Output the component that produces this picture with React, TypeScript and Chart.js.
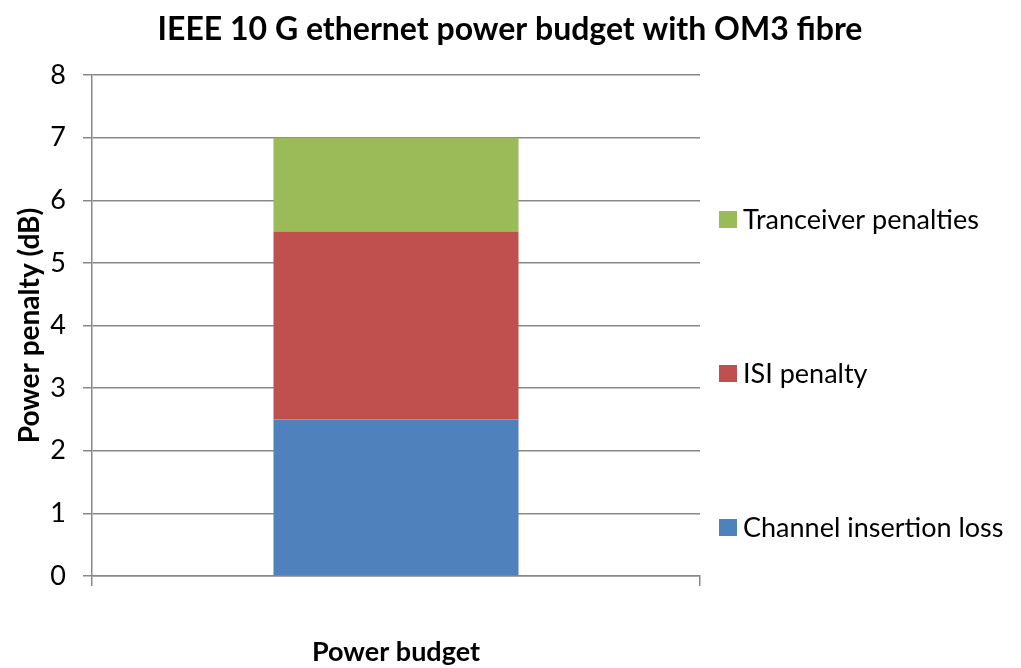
import React, { useEffect, useRef } from "react";
import { Chart, registerables } from "chart.js";

Chart.register(...registerables);

const title = "IEEE 10 G ethernet power budget with OM3 fibre";
const categories = ["Power budget"];
const seriesNames = ["Channel insertion loss", "ISI penalty", "Tranceiver penalties"];
const channelLoss = [2.5];
const isiPenalty = [3.0];
const transceiverPenalties = [1.5];
const seriesColors = ["#4F81BD", "#C0504D", "#9BBB59"];
const yTitle = "Power penalty (dB)";
const yMin = 0;
const yMax = 8;
const yStep = 1;

const FONT = "Lato, 'Open Sans', sans-serif";

const titlePlugin = {
  id: "centerTitle",
  afterDraw(chart: any) {
    const { ctx } = chart;
    ctx.save();
    ctx.font = `bold 32px ${FONT}`;
    ctx.fillStyle = "#000";
    ctx.textAlign = "center";
    ctx.textBaseline = "middle";
    ctx.fillText(title, 510, 30);
    ctx.restore();
  },
};

const legendPlugin = {
  id: "sideLegend",
  afterDraw(chart: any) {
    const { ctx } = chart;
    const x = 719;
    const ys = [528, 374, 220];
    ctx.save();
    ctx.font = `27px ${FONT}`;
    ctx.textBaseline = "middle";
    ctx.textAlign = "left";
    chart.data.datasets.forEach((ds: any, i: number) => {
      const y = ys[i];
      ctx.fillStyle = ds.backgroundColor;
      ctx.fillRect(x, y - 9, 18, 17);
      ctx.fillStyle = "#000";
      ctx.fillText(ds.label, x + 24, y);
    });
    ctx.restore();
  },
};

export default function App() {
  const ref = useRef<HTMLCanvasElement>(null);
  useEffect(() => {
    if (!ref.current) return;
    const values = [channelLoss, isiPenalty, transceiverPenalties];
    const chart = new Chart(ref.current, {
      type: "bar",
      data: {
        labels: categories,
        datasets: seriesNames.map((name, i) => ({
          label: name,
          data: values[i],
          backgroundColor: seriesColors[i],
          borderWidth: 0,
          categoryPercentage: 1,
          barPercentage: 0.403,
        })),
      },
      options: {
        animation: false,
        responsive: false,
        devicePixelRatio: 1,
        layout: { padding: { left: 0, right: 321, top: 75, bottom: 0 } },
        plugins: {
          legend: { display: false },
          tooltip: { enabled: false },
          title: { display: false },
        },
        scales: {
          x: {
            stacked: true,
            offset: true,
            grid: {
              offset: true,
              drawOnChartArea: false,
              drawTicks: true,
              tickLength: 10,
              color: "#888",
              lineWidth: 1.5,
            },
            border: { color: "#888", width: 1.5 },
            ticks: {
              color: "#000",
              font: { family: FONT, size: 27, weight: "bold" },
              padding: 50,
            },
            afterFit(scale: any) {
              scale.height = 92;
            },
          },
          y: {
            stacked: true,
            min: yMin,
            max: yMax,
            ticks: {
              stepSize: yStep,
              color: "#000",
              font: { family: FONT, size: 27 },
              padding: 17,
            },
            grid: { color: "#888", lineWidth: 1.5, tickLength: 9 },
            border: { color: "#888", width: 1.5 },
            title: {
              display: true,
              text: yTitle,
              color: "#000",
              font: { family: FONT, size: 28, weight: "bold" },
              padding: { top: 13, bottom: 0 },
            },
            afterFit(scale: any) {
              scale.width = 92;
            },
          },
        },
      },
      plugins: [titlePlugin, legendPlugin],
    });
    return () => chart.destroy();
  }, []);
  return (
    <div style={{ position: "absolute", left: 0, top: 0, width: 1021, height: 668, background: "#fff" }}>
      <canvas ref={ref} width={1021} height={668} />
    </div>
  );
}
